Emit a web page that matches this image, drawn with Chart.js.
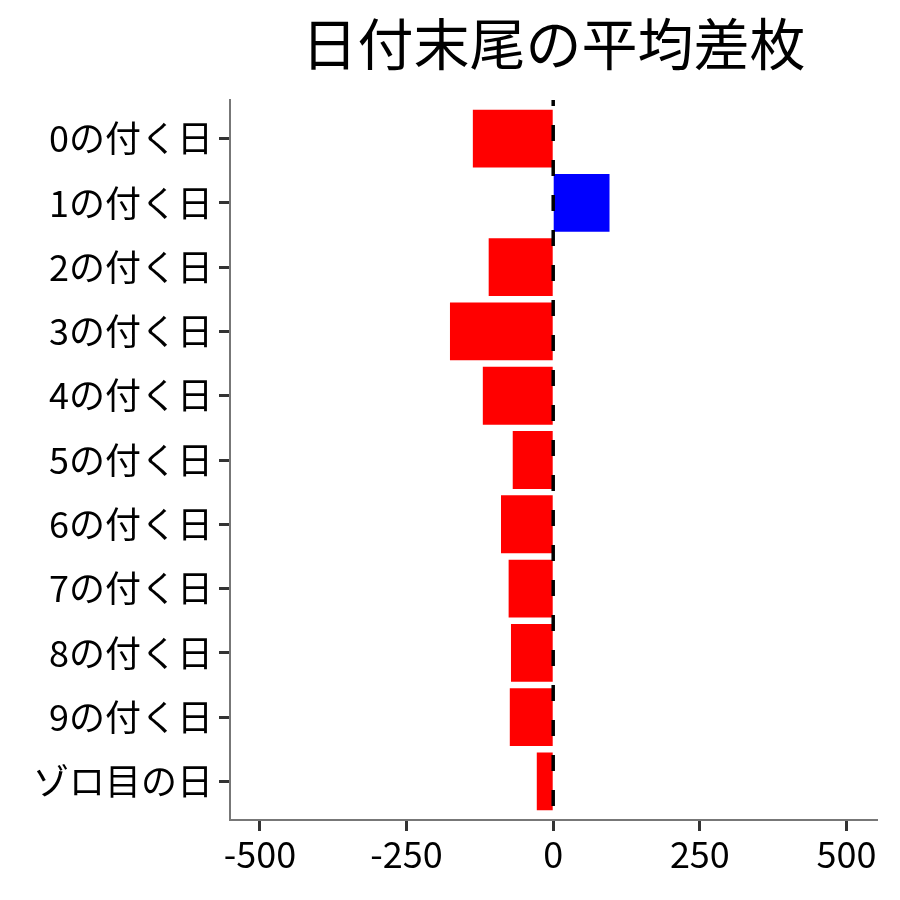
<!DOCTYPE html>
<html>
<head>
<meta charset="utf-8">
<script src="https://cdn.jsdelivr.net/npm/chart.js@4"></script>
<style>
  html, body { margin: 0; padding: 0; background: #fff; }
</style>
</head>
<body>
<canvas id="myChart" width="900" height="900"></canvas>
<script>
const titleText = '日付末尾の平均差枚';
const categories = ['0の付く日', '1の付く日', '2の付く日', '3の付く日', '4の付く日',
  '5の付く日', '6の付く日', '7の付く日', '8の付く日', '9の付く日', 'ゾロ目の日'];
const avgDiff = [-137, 96, -110, -176, -120, -69, -89, -76, -72, -74, -28];
const xTicks = [-500, -250, 0, 250, 500];

const FONT = "'Noto Sans CJK JP', 'Noto Sans', sans-serif";

// title centred over the panel, zero line dashed on top of the bars
const panelDecor = {
  id: 'panelDecor',
  afterDatasetsDraw(chart) {
    const { ctx, chartArea, scales } = chart;
    const x0 = scales.x.getPixelForValue(0);
    ctx.save();
    ctx.strokeStyle = '#000';
    ctx.lineWidth = 3.5;
    ctx.setLineDash([16, 19]);
    ctx.lineDashOffset = 10;
    ctx.beginPath();
    ctx.moveTo(x0, chartArea.top);
    ctx.lineTo(x0, chartArea.bottom);
    ctx.stroke();
    ctx.restore();
  },
  afterDraw(chart) {
    const { ctx, chartArea } = chart;
    ctx.save();
    ctx.fillStyle = '#000';
    ctx.font = '56px ' + FONT;
    ctx.textAlign = 'center';
    ctx.textBaseline = 'middle';
    ctx.fillText(titleText, (chartArea.left + chartArea.right) / 2, 44);
    ctx.restore();
  }
};

const config = {
  type: 'bar',
  data: {
    datasets: [{
      data: avgDiff.map((v, i) => ({ x: v, y: i })),
      backgroundColor: avgDiff.map(v => v < 0 ? '#ff0000' : '#0000ff'),
      borderWidth: 0,
      categoryPercentage: 0.9,
      barPercentage: 1.0
    }]
  },
  options: {
    indexAxis: 'y',
    responsive: false,
    animation: false,
    devicePixelRatio: 1,
    layout: { padding: { top: 100, right: 23, left: 0, bottom: 0 } },
    plugins: {
      legend: { display: false },
      title: { display: false },
      tooltip: { enabled: false }
    },
    scales: {
      x: {
        type: 'linear',
        min: -551,
        max: 552,
        afterBuildTicks: scale => { scale.ticks = xTicks.map(v => ({ value: v })); },
        afterFit: scale => { scale.height = 80; },
        grid: {
          drawOnChartArea: false,
          drawTicks: true,
          tickLength: 11,
          tickColor: '#333',
          tickWidth: 3
        },
        border: { color: '#777', width: 2 },
        ticks: {
          color: '#000',
          padding: 2,
          maxRotation: 0,
          font: { family: FONT, size: 36 }
        }
      },
      y: {
        type: 'linear',
        reverse: true,
        offset: false,
        min: -0.6,
        max: categories.length - 0.4,
        afterBuildTicks: scale => { scale.ticks = categories.map((c, i) => ({ value: i })); },
        afterFit: scale => { scale.width = 230; },
        grid: {
          offset: false,
          drawOnChartArea: false,
          drawTicks: true,
          tickLength: 11,
          tickColor: '#333',
          tickWidth: 3
        },
        border: { color: '#777', width: 2 },
        ticks: {
          color: '#000',
          padding: 6,
          autoSkip: false,
          callback: v => categories[v],
          font: { family: FONT, size: 36 }
        }
      }
    }
  },
  plugins: [panelDecor]
};

const myChart = new Chart(document.getElementById('myChart'), config);
</script>
</body>
</html>
